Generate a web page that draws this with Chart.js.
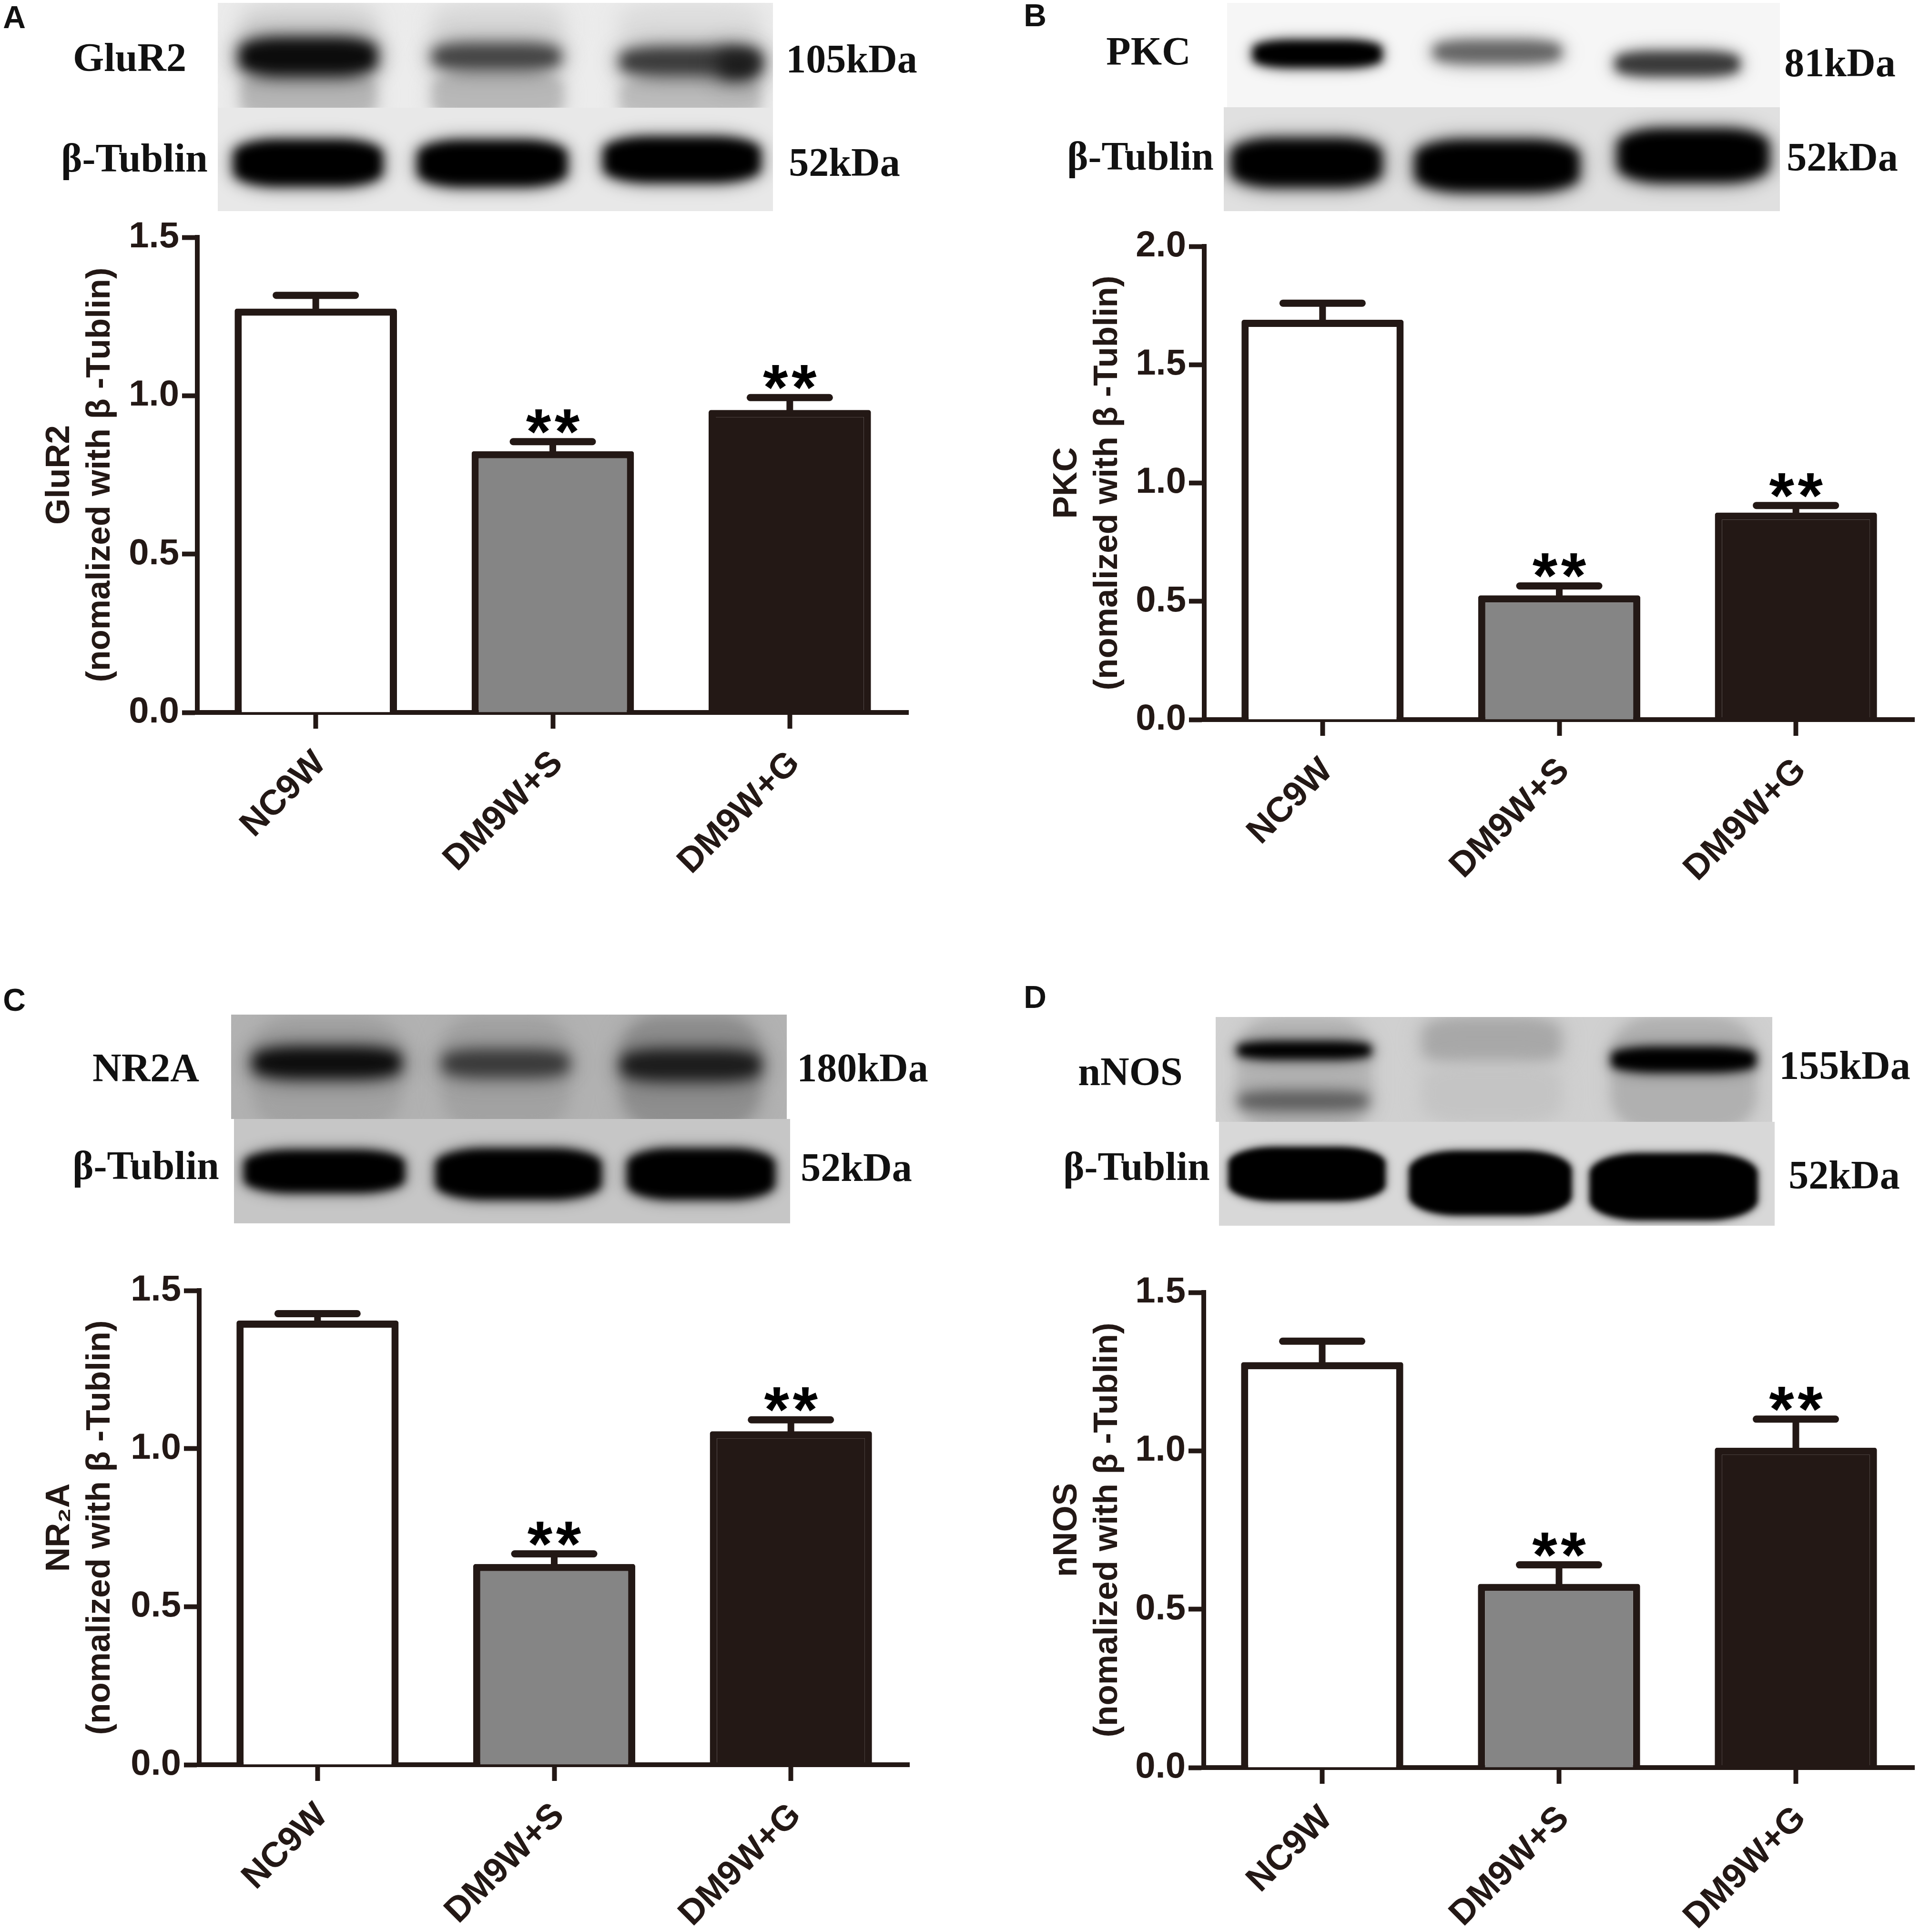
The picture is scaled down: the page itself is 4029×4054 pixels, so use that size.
<!DOCTYPE html>
<html>
<head>
<meta charset="utf-8">
<title>Western blot panels</title>
<script src="https://cdn.jsdelivr.net/npm/chart.js@4"></script>
<style>
  html, body { margin: 0; padding: 0; background: #fff; }
  #page { position: relative; width: 4029px; height: 4054px; overflow: hidden; background: #fff; }
  #page canvas { position: absolute; }
  .blot { position: absolute; overflow: hidden; }
  .band { position: absolute; border-radius: 30%; }
  .blot-label { position: absolute; transform: translate(-50%, -50%); font: bold 84px "Liberation Serif", serif; color: #111; white-space: nowrap; }
  .panel-letter { position: absolute; transform: translate(-50%, -50%); font: bold 66px "Liberation Sans", sans-serif; color: #111; }
</style>
</head>
<body>
<div id="page"></div>
<script>
// data
const categories = ['NC9W', 'DM9W+S', 'DM9W+G'];

const glur2Values = [1.275, 0.825, 0.955];
const glur2Errors = [0.042, 0.03, 0.039];
const pkcValues = [1.69, 0.525, 0.875];
const pkcErrors = [0.07, 0.04, 0.03];
const nr2aValues = [1.405, 0.635, 1.055];
const nr2aErrors = [0.022, 0.032, 0.036];
const nnosValues = [1.28, 0.58, 1.01];
const nnosErrors = [0.066, 0.06, 0.09];

const glur2Max = 1.5;
const pkcMax = 2.0;
const nr2aMax = 1.5;
const nnosMax = 1.5;
const tickStep = 0.5;

const starCounts = [0, 2, 2];

const INK = '#231815';
const barFills = ['#ffffff', '#858585', INK];

// [left, top, right, bottom] of each plot on the page
const panels = [
  { title: ['GluR2', '(nomalized with β -Tublin)'], values: glur2Values, errors: glur2Errors, max: glur2Max, plot: [414, 498, 1906, 1495], xPad: 83 },
  { title: ['PKC', '(nomalized with β -Tublin)'], values: pkcValues, errors: pkcErrors, max: pkcMax, plot: [2527, 517, 4017, 1510], xPad: 2197 },
  { title: ['NR₂A', '(nomalized with β -Tublin)'], values: nr2aValues, errors: nr2aErrors, max: nr2aMax, plot: [418, 2708, 1908, 3703], xPad: 83 },
  { title: ['nNOS', '(nomalized with β -Tublin)'], values: nnosValues, errors: nnosErrors, max: nnosMax, plot: [2526, 2712, 4017, 3709], xPad: 2197 }
];

// blot strips: [left, top, width, height, background], bands: [left, top, width, height, colour, blur]
const blots = [
  { box: [457, 6, 1165, 220, '#ececec'], bands: [
    [505, 10, 285, 90, '#d4d4d4', 18], [907, 10, 275, 90, '#d8d8d8', 18], [1301, 10, 295, 90, '#dcdcdc', 18],
    [505, 150, 285, 100, '#b6b6b6', 12], [907, 150, 275, 100, '#b8b8b8', 12], [1301, 160, 295, 90, '#bcbcbc', 12],
    [501, 78, 291, 82, '#0c0c0c', 14], [907, 90, 270, 58, '#454545', 14], [1301, 98, 295, 62, '#3c3c3c', 14], [1510, 108, 80, 56, '#1c1c1c', 16]
  ] },
  { box: [457, 226, 1165, 217, '#e8e8e8'], bands: [[490, 293, 313, 98, '#000000', 11], [876, 294, 314, 98, '#000000', 11], [1266, 287, 330, 96, '#000000', 11]] },
  { box: [2575, 6, 1160, 219, '#f6f6f6'], bands: [[2629, 84, 271, 58, '#000000', 9], [3008, 84, 268, 50, '#666666', 12], [3390, 108, 260, 52, '#3a3a3a', 11]] },
  { box: [2568, 225, 1167, 218, '#e0e0e0'], bands: [[2583, 290, 317, 103, '#000000', 12], [2969, 293, 345, 110, '#000000', 12], [3394, 270, 318, 113, '#000000', 12]] },
  { box: [485, 2129, 1166, 219, '#b2b2b2'], bands: [
    [531, 2129, 310, 240, '#a2a2a2', 14], [929, 2129, 264, 240, '#a2a2a2', 14], [1304, 2129, 291, 240, '#8e8e8e', 14],
    [531, 2197, 310, 66, '#0d0d0d', 14], [929, 2203, 264, 57, '#3a3a3a', 14], [1304, 2203, 291, 64, '#1c1c1c', 14]
  ] },
  { box: [491, 2348, 1167, 219, '#c6c6c6'], bands: [[512, 2413, 337, 90, '#000000', 9], [914, 2410, 348, 107, '#000000', 9], [1316, 2410, 310, 107, '#000000', 9]] },
  { box: [2551, 2134, 1168, 220, '#d0d0d0'], bands: [
    [2597, 2134, 280, 240, '#b4b4b4', 12], [2985, 2134, 290, 100, '#a8a8a8', 14], [2985, 2234, 290, 120, '#c4c4c4', 14], [3382, 2134, 302, 240, '#b0b0b0', 12],
    [2597, 2185, 280, 38, '#000000', 9], [2601, 2290, 268, 40, '#606060', 12], [3382, 2197, 302, 53, '#000000', 9]
  ] },
  { box: [2558, 2354, 1166, 218, '#d8d8d8'], bands: [[2578, 2407, 329, 113, '#000000', 6], [2957, 2415, 341, 135, '#000000', 6], [3336, 2420, 352, 140, '#000000', 6]] }
];

// [text, centre x, centre y]
const blotLabels = [
  ['GluR2', 272, 120], ['β-Tublin', 282, 331], ['105kDa', 1787, 123], ['52kDa', 1772, 340],
  ['PKC', 2410, 107], ['β-Tublin', 2393, 327], ['81kDa', 3861, 131], ['52kDa', 3866, 329],
  ['NR2A', 306, 2240], ['β-Tublin', 306, 2445], ['180kDa', 1810, 2240], ['52kDa', 1797, 2449],
  ['nNOS', 2372, 2248], ['β-Tublin', 2385, 2447], ['155kDa', 3871, 2235], ['52kDa', 3870, 2465]
];

const panelLetters = [['A', 30, 36], ['B', 2172, 32], ['C', 30, 2098], ['D', 2172, 2092]];

const page = document.getElementById('page');

blots.forEach(b => {
  const [left, top, width, height, bg] = b.box;
  const el = document.createElement('div');
  el.className = 'blot';
  el.style.cssText = `left:${left}px;top:${top}px;width:${width}px;height:${height}px;background:${bg}`;
  b.bands.forEach(([x, y, w, h, color, blur]) => {
    const band = document.createElement('div');
    band.className = 'band';
    band.style.cssText = `left:${x - left}px;top:${y - top}px;width:${w}px;height:${h}px;background:${color};` +
      `box-shadow:0 0 ${blur * 2}px ${blur}px ${color}55;filter:blur(${blur}px)`;
    el.appendChild(band);
  });
  page.appendChild(el);
});

blotLabels.forEach(([text, x, y]) => {
  const el = document.createElement('div');
  el.className = 'blot-label';
  el.style.left = x + 'px';
  el.style.top = y + 'px';
  el.textContent = text;
  page.appendChild(el);
});

panelLetters.forEach(([text, x, y]) => {
  const el = document.createElement('div');
  el.className = 'panel-letter';
  el.style.left = x + 'px';
  el.style.top = y + 'px';
  el.textContent = text;
  page.appendChild(el);
});

/* error bars and significance stars, placed through the chart's scales */
const errorBarPlugin = {
  id: 'errorBars',
  afterDatasetsDraw(chart) {
    const { ctx, scales: { x, y } } = chart;
    const ds = chart.data.datasets[0];
    ctx.save();
    ctx.strokeStyle = INK;
    ctx.fillStyle = '#000';
    ds.data.forEach((v, i) => {
      const cx = x.getPixelForValue(i);
      const top = y.getPixelForValue(v);
      const capY = y.getPixelForValue(v + ds.errors[i]);
      ctx.lineCap = 'butt';
      ctx.lineWidth = 14;
      ctx.beginPath();
      ctx.moveTo(cx, top + 6);
      ctx.lineTo(cx, capY);
      ctx.stroke();
      ctx.lineCap = 'round';
      ctx.lineWidth = 15;
      ctx.beginPath();
      ctx.moveTo(cx - 83, capY);
      ctx.lineTo(cx + 83, capY);
      ctx.stroke();
      ctx.font = 'bold 135px "Liberation Sans", sans-serif';
      ctx.textAlign = 'center';
      ctx.textBaseline = 'alphabetic';
      for (let s = 0; s < starCounts[i]; s++) {
        ctx.fillText('*', cx + (s - (starCounts[i] - 1) / 2) * 60, capY + 25);
      }
    });
    ctx.restore();
  }
};

function buildPanel(p) {
  const [plotLeft, plotTop, plotRight, plotBottom] = p.plot;
  const canvasLeft = p.xPad;
  const canvasTop = plotTop - 70;
  const width = plotRight - canvasLeft + 12;
  const height = Math.min(plotBottom - canvasTop + 360, 4054 - canvasTop);
  const canvas = document.createElement('canvas');
  canvas.width = width;
  canvas.height = height;
  canvas.style.left = canvasLeft + 'px';
  canvas.style.top = canvasTop + 'px';
  canvas.style.width = width + 'px';
  canvas.style.height = height + 'px';
  page.appendChild(canvas);

  return new Chart(canvas.getContext('2d'), {
    type: 'bar',
    data: {
      labels: categories,
      datasets: [{
        data: p.values,
        errors: p.errors,
        backgroundColor: barFills,
        borderColor: INK,
        borderWidth: 15,
        borderSkipped: 'bottom',
        borderRadius: { topLeft: 5, topRight: 5 },
        barPercentage: 0.685,
        categoryPercentage: 1,
        clip: false
      }]
    },
    plugins: [errorBarPlugin],
    options: {
      responsive: false,
      animation: false,
      devicePixelRatio: 1,
      layout: { autoPadding: false, padding: { left: 0, top: 70, right: 12, bottom: 0 } },
      plugins: { legend: { display: false }, tooltip: { enabled: false } },
      scales: {
        x: {
          afterFit(scale) { scale.height = height - (plotBottom - canvasTop); },
          grid: { offset: false, drawOnChartArea: false, tickLength: 34, tickWidth: 10, tickColor: INK },
          border: { display: true, width: 10, color: INK },
          ticks: {
            minRotation: 45,
            maxRotation: 45,
            autoSkip: false,
            padding: 30,
            labelOffset: 10,
            color: INK,
            font: { family: '"Liberation Sans"', weight: 'bold', size: 74 }
          }
        },
        y: {
          min: 0,
          max: p.max,
          afterFit(scale) { scale.width = plotLeft - canvasLeft; },
          grid: { drawOnChartArea: false, tickLength: 32, tickWidth: 10, tickColor: INK },
          border: { display: true, width: 10, color: INK },
          title: {
            display: true,
            text: p.title,
            color: INK,
            padding: 0,
            font: { family: '"Liberation Sans"', weight: 'bold', size: 71, lineHeight: 1.2 }
          },
          ticks: {
            stepSize: tickStep,
            padding: 6,
            color: INK,
            font: { family: '"Liberation Sans"', weight: 'bold', size: 76 },
            callback: v => v.toFixed(1)
          }
        }
      }
    }
  });
}

panels.forEach(buildPanel);
</script>
</body>
</html>
